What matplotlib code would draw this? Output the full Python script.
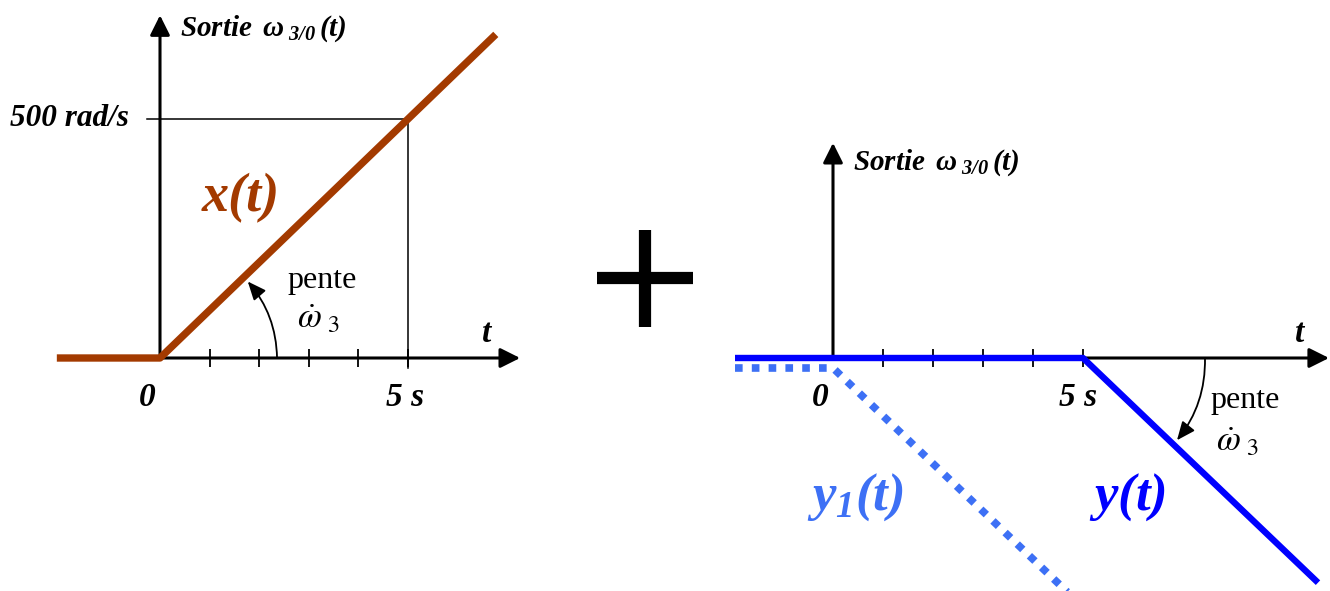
"""Superposition of a ramp x(t) and a delayed negative ramp y(t)."""
import matplotlib
matplotlib.use("Agg")
import matplotlib.pyplot as plt
import matplotlib.transforms as mtransforms
from matplotlib.lines import Line2D
from matplotlib.patches import ArrowStyle

plt.rcParams.update({
    "font.family": "Liberation Serif",
    "mathtext.fontset": "stix",
    "mathtext.rm": "Liberation Serif:bold:italic",
    "mathtext.it": "Liberation Serif:bold:italic",
    "mathtext.bf": "Liberation Serif:bold:italic",
})

# data (t in s, omega in rad/s)
t_x = [-2.08, 0.0, 6.77]
x_vals = [0.0, 0.0, 677.0]
t_y = [-1.96, 5.0, 9.7]
y_vals = [0.0, 0.0, -470.0]
t_y1 = [-1.96, 0.0, 4.74]
y1_vals = [0.0, 0.0, -474.0]
ticks = [1, 2, 3, 4, 5]
t_end = 5
w_end = 500

BROWN = "#A33A00"
BLUE = "#0000FF"
LBLUE = "#3D70F5"

W, H = 1330, 591
PX_W = 0.478          # pixels per rad/s
fig = plt.figure(figsize=(W / 100, H / 100), dpi=100)


def make_ax(x0, x1, ox, px_t, oy=358):
    ax = fig.add_axes([x0 / W, 0, (x1 - x0) / W, 1])
    ax.set_xlim(-(ox - x0) / px_t, (x1 - ox) / px_t)
    ax.set_ylim(-(H - oy) / PX_W, oy / PX_W)
    ax.axis("off")
    return ax


head = ArrowStyle("-|>", head_length=0.6, head_width=0.3)
small = ArrowStyle("-|>", head_length=0.7, head_width=0.3)


def axis_arrow(ax, start, end):
    ax.annotate("", xy=end, xytext=start, annotation_clip=False,
                arrowprops=dict(arrowstyle=head, lw=2.2, color="k",
                                mutation_scale=20, shrinkA=0, shrinkB=0))


def slope_arrow(ax, start, end, rad):
    ax.annotate("", xy=end, xytext=start, annotation_clip=False,
                arrowprops=dict(arrowstyle=small, lw=1.3, color="k",
                                mutation_scale=16, shrinkA=0, shrinkB=0,
                                connectionstyle=f"arc3,rad={rad}"))


def sortie(ax, t, w):
    ax.text(t, w, r"Sortie $\,\omega_{\ 3/0}\,(t)$", fontsize=21, fontweight="bold",
            style="italic", ha="left", va="baseline", math_fontfamily="custom")


bi = dict(fontweight="bold", style="italic")

# ---- left panel: x(t)
ax = make_ax(0, 560, 160, 49.6)
axis_arrow(ax, (0, 0), (0, 717))
axis_arrow(ax, (0, 0), (7.26, 0))
ax.plot(ticks, [0] * len(ticks), ls="none", marker="|", ms=13, mew=1.3, color="k")
ax.plot([-0.26, t_end], [w_end, w_end], color="k", lw=1.1)
ax.plot([t_end, t_end], [w_end, -20], color="k", lw=1.1)
ax.plot(t_x, x_vals, color=BROWN, lw=5.3, solid_capstyle="butt", zorder=5)
sortie(ax, 0.40, 674)
ax.text(-0.62, w_end, "500 rad/s", fontsize=22.5, ha="right", va="center", **bi)
ax.text(1.63, 335, "x(t)", fontsize=39, color=BROWN, ha="center", va="center", **bi)
ax.text(-0.26, -82, "0", fontsize=24, ha="center", va="center", **bi)
ax.text(4.94, -82, "5 s", fontsize=24, ha="center", va="center", **bi)
ax.text(6.59, 52, "t", fontsize=24, ha="center", va="center", **bi)
ax.text(3.27, 163, "pente", fontsize=23, ha="center", va="center")
ax.text(3.19, 80, r"$\dot{\omega}_{\ \mathrm{3}}$", fontsize=25, ha="center", va="center",
        math_fontfamily="stix")
slope_arrow(ax, (2.36, 0), (1.77, 160), 0.18)

# ---- right panel: y(t) and y1(t)
ax = make_ax(700, 1330, 833, 50.0)
axis_arrow(ax, (0, 0), (0, 450))
axis_arrow(ax, (0, 0), (9.92, 0))
ax.plot(ticks, [0] * len(ticks), ls="none", marker="|", ms=13, mew=1.3, color="k")
shift = mtransforms.offset_copy(ax.transData, fig=fig, y=-10, units="dots")
ax.plot(t_y1, y1_vals, color=LBLUE, lw=5.5, ls=(0, (1, 1.2)), dash_capstyle="butt",
        transform=shift, zorder=4)
ax.plot(t_y, y_vals, color=BLUE, lw=4.6, solid_capstyle="butt", zorder=5)
sortie(ax, 0.40, 393)
ax.text(-0.26, -82, "0", fontsize=24, ha="center", va="center", **bi)
ax.text(4.9, -82, "5 s", fontsize=24, ha="center", va="center", **bi)
ax.text(9.34, 52, "t", fontsize=24, ha="center", va="center", **bi)
ax.text(8.24, -88, "pente", fontsize=23, ha="center", va="center")
ax.text(8.08, -178, r"$\dot{\omega}_{\ \mathrm{3}}$", fontsize=25, ha="center",
        va="center", math_fontfamily="stix")
slope_arrow(ax, (7.44, 0), (6.88, -172), -0.18)
ax.text(0.44, -291, r"$y_1(t)$", fontsize=38, color=LBLUE, ha="center", va="center",
        math_fontfamily="custom")
ax.text(5.9, -291, r"$y(t)$", fontsize=38, color=BLUE, ha="center", va="center",
        math_fontfamily="custom")

# ---- the big plus sign between panels
for xs, ys in (([645, 645], [230, 327]), ([597, 693], [278, 278])):
    fig.add_artist(Line2D([v / W for v in xs], [1 - v / H for v in ys],
                          transform=fig.transFigure, color="k", lw=8.8,
                          solid_capstyle="butt"))

fig.savefig("out.png", dpi=100)
